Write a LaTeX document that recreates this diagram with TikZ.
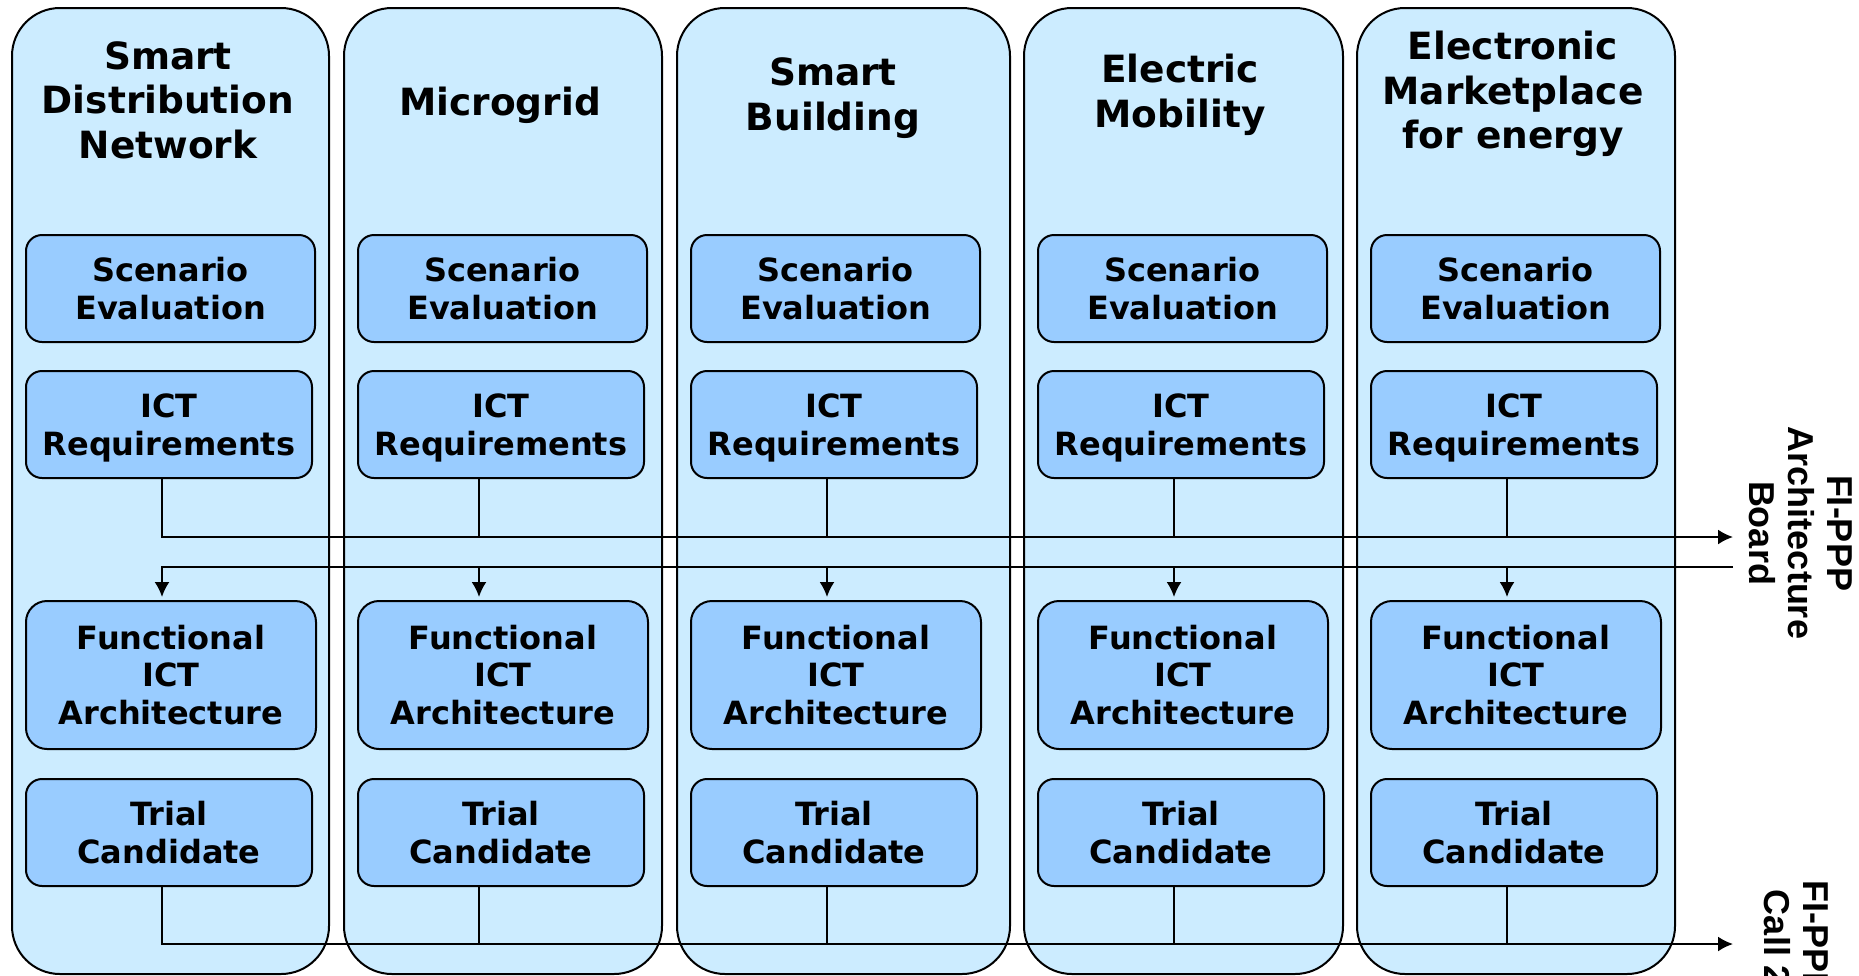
\documentclass[tikz,border=0pt]{standalone}
\usepackage{fontspec}
\setmainfont{DejaVu Sans}
\newfontfamily\sidefont{Liberation Sans}
\usetikzlibrary{arrows.meta}

\definecolor{lanefill}{HTML}{CCECFF}
\definecolor{stagefill}{HTML}{99CCFF}

\tikzset{
  lane/.style={draw, line width=2pt, fill=lanefill, rounded corners=48pt,
    anchor=north west, inner sep=0pt},
  stage/.style={draw, line width=2pt, fill=stagefill, rounded corners=16pt,
    anchor=north west, align=center, inner sep=0pt,
    font=\fontsize{32}{37.5}\selectfont\bfseries},
  lanetitle/.style={align=center, inner sep=0pt,
    font=\fontsize{37.5}{44.5}\selectfont\bfseries},
  sidelabel/.style={align=center, rotate=-90, inner sep=0pt,
    font=\sidefont\fontsize{36}{39}\selectfont\bfseries},
  flow/.style={line width=2pt},
}

\begin{document}
\begin{tikzpicture}
  [x=1pt, y=-1pt, >={Latex[length=15pt,width=15pt]}]
  \useasboundingbox (0,0) rectangle (1859,975);

  \foreach \i/\l/\r/\tap/\ty/\name in {
      1/11/328/162/100/{Smart\\Distribution\\Network},
      2/343/661/479/105/{Microgrid},
      3/676/1009/827/98/{Smart\\Building},
      4/1023/1342/1174/95/{Electric\\Mobility},
      5/1356/1674/1507/94/{Electronic\\Marketplace\\for energy}} {
    \node[lane, minimum width={(\r-\l)*1pt}, minimum height=966pt] (lane\i) at (\l,7) {};
    \node[lanetitle] (ttl\i) at (\l+157,\ty) {\name};
    \node[stage, minimum width=289pt, minimum height=107pt] (sce\i) at (\l+14,234) {Scenario\\Evaluation};
    \node[stage, minimum width=286pt, minimum height=107pt] (ict\i) at (\l+14,370) {ICT\\\smash{Requirements}};
    \node[stage, minimum width=290pt, minimum height=148pt, rounded corners=21pt] (fun\i) at (\l+14,600) {Functional\\ICT\\Architecture};
    \node[stage, minimum width=286pt, minimum height=107pt] (tri\i) at (\l+14,778) {Trial\\Candidate};
    \coordinate (up\i) at (\tap,537);
    \coordinate (dn\i) at (\tap,567);
    \coordinate (out\i) at (\tap,944);
  }

  \node[sidelabel] (board) at (1801,533) {FI-PPP\\Architecture\\Board};
  \node[sidelabel] (call) at (1796,938) {FI-PPP\\Call 2};
  \coordinate (toboard) at (1733,537);
  \coordinate (fromboard) at (1733,567);
  \coordinate (tocall) at (1733,944);

  \draw[flow, ->] (ict1.south -| up1) -- (up1) -- (toboard);
  \draw[flow, ->, shorten >=3pt] (fromboard) -- (dn1) -- (fun1.north -| dn1);
  \draw[flow, ->] (tri1.south -| out1) -- (out1) -- (tocall);
  \foreach \i in {2,...,5} {
    \draw[flow] (ict\i.south -| up\i) -- (up\i);
    \draw[flow, ->, shorten >=3pt] (dn\i) -- (fun\i.north -| dn\i);
    \draw[flow] (tri\i.south -| out\i) -- (out\i);
  }
\end{tikzpicture}
\end{document}
